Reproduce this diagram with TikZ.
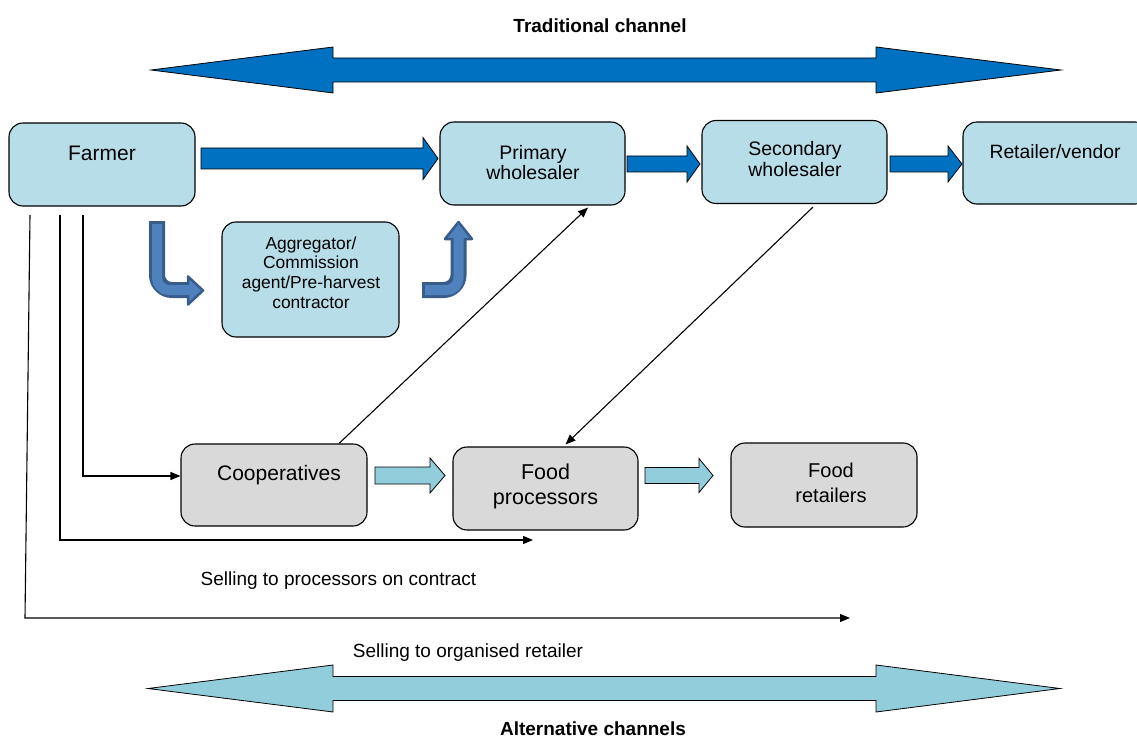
\documentclass[tikz,border=0pt]{standalone}
\usepackage{fontspec}
\setmainfont{Liberation Sans}
\usetikzlibrary{arrows.meta}

\definecolor{boxblue}{HTML}{B7DEE8}
\definecolor{boxgrey}{HTML}{D9D9D9}
\definecolor{arrowdark}{HTML}{0070C0}
\definecolor{arrowlight}{HTML}{92CDDC}
\definecolor{turnfill}{HTML}{4F81BD}
\definecolor{turnedge}{HTML}{385D8A}

% block arrow: style, x start, x head, x tip, y centre, shaft half, head half
\newcommand{\blockarrow}[7]{%
  \draw[#1] (#2,#5-#6) -- (#3,#5-#6) -- (#3,#5-#7) -- (#4,#5)
    -- (#3,#5+#7) -- (#3,#5+#6) -- (#2,#5+#6) -- cycle;}
% double block arrow: style, x left tip, x left head, x right head, x right tip, y centre, shaft half, head half
\newcommand{\twinarrow}[8]{%
  \draw[#1] (#2,#6) -- (#3,#6-#8) -- (#3,#6-#7) -- (#4,#6-#7) -- (#4,#6-#8)
    -- (#5,#6) -- (#4,#6+#8) -- (#4,#6+#7) -- (#3,#6+#7) -- (#3,#6+#8) -- cycle;}

\begin{document}
\begin{tikzpicture}[
  x=1pt, y=-1pt,
  box/.style={draw, rounded corners=14pt, line width=1.1pt, inner sep=0pt},
  bluebox/.style={box, fill=boxblue},
  greybox/.style={box, fill=boxgrey},
  boxtext/.style={align=center, inner sep=0pt},
  label text/.style={inner sep=0pt, font=\fontsize{19}{22}\selectfont},
  title text/.style={inner sep=0pt, font=\fontsize{19}{22}\selectfont\bfseries},
  link/.style={line width=1.1pt, -{Triangle[length=10pt,width=8pt]}},
  fatdark/.style={draw=black, line width=0.8pt, fill=arrowdark},
  fatlight/.style={draw=black, line width=0.8pt, fill=arrowlight},
  turnouter/.style={draw=turnedge, line width=16pt, rounded corners=15pt},
  turninner/.style={draw=turnfill, line width=10pt, rounded corners=12pt},
  turnhead/.style={draw=turnedge, line width=2.5pt, fill=turnfill, line join=round}
]
\useasboundingbox (0,0) rectangle (1137,738);
\clip (0,0) rectangle (1137,738);

% channel arrows
\twinarrow{fatdark}{151}{333}{876}{1061}{70}{12}{23}
\twinarrow{fatlight}{148}{333}{876}{1060}{688.5}{12}{23.5}
\node[title text] (traditional) at (600,26) {Traditional channel};
\node[title text] (alternative) at (593,729) {Alternative channels};

% boxes
\node[bluebox, minimum width=186pt, minimum height=83pt] (farmer) at (102,164.5) {};
\node[bluebox, minimum width=185pt, minimum height=83pt] (primary) at (532.5,163.5) {};
\node[bluebox, minimum width=185pt, minimum height=83pt] (secondary) at (794.5,162) {};
\node[bluebox, minimum width=186pt, minimum height=82pt] (retailer) at (1056,163) {};
\node[bluebox, minimum width=177pt, minimum height=115pt] (aggregator) at (310.5,279.5) {};
\node[greybox, minimum width=186pt, minimum height=82pt] (coop) at (274,485) {};
\node[greybox, minimum width=185pt, minimum height=83pt] (foodproc) at (545.5,488.5) {};
\node[greybox, minimum width=186pt, minimum height=84pt] (foodret) at (824,485) {};

\node[boxtext, font=\fontsize{21}{25}\selectfont] (farmertext) at (102,153) {Farmer};
\node[boxtext, font=\fontsize{19.5}{20}\selectfont] (primarytext) at (533,163) {Primary\\wholesaler};
\node[boxtext, font=\fontsize{19.5}{21}\selectfont] (secondarytext) at (795,159.5) {Secondary\\wholesaler};
\node[boxtext, font=\fontsize{19.3}{22}\selectfont] (retailertext) at (1055,152) {Retailer/vendor};
\node[boxtext, font=\fontsize{17.4}{19.7}\selectfont] (aggregatortext) at (311,272.5)
  {Aggregator/\\Commission\\agent/Pre-harvest\\contractor};
\node[boxtext, font=\fontsize{21}{25}\selectfont] (cooptext) at (279,475) {Cooperatives};
\node[boxtext, font=\fontsize{21.5}{25}\selectfont] (foodproctext) at (545.5,486) {Food\\processors};
\node[boxtext, font=\fontsize{20}{25}\selectfont] (foodrettext) at (831,482.5) {Food\\retailers};

% traditional flow
\blockarrow{fatdark}{201}{423}{438}{158.5}{10.5}{21}
\blockarrow{fatdark}{627}{687}{700}{164}{8}{18}
\blockarrow{fatdark}{890}{948}{962}{164}{8}{18}

% alternative flow
\blockarrow{fatlight}{375}{430}{445}{475.5}{8.5}{17.5}
\blockarrow{fatlight}{645}{699}{713}{475.5}{8}{17}

% turns through the aggregator
\draw[turnouter] (157,221) |- (190,290);
\draw[turnhead] (188,276.5) -- (203,290.5) -- (188,304.5) -- cycle;
\draw[turninner] (157,224) |- (191,290);
\draw[turnouter] (422,290) -| (458.5,238);
\draw[turnhead] (445,239) -- (458.5,222) -- (472,239) -- cycle;
\draw[turninner] (425,290) -| (458.5,237);

% thin links
\coordinate (f1) at (83,215);
\coordinate (f2) at (60,215);
\coordinate (f3) at (30,215);
\coordinate (f3low) at (25,618);
\coordinate (procend) at (533,540);
\coordinate (retend) at (850,618);
\draw[link] (f1) |- ([yshift=9pt]coop.west);
\draw[link] (f2) |- (procend);
\draw[link] (f3) -- (f3low) -- (retend);
\draw[link] ([xshift=65pt]coop.north) -- ([xshift=55.5pt,yshift=-2pt]primary.south);
\draw[link] ([xshift=18.5pt,yshift=-3pt]secondary.south) -- ([xshift=20pt,yshift=2pt]foodproc.north);

\node[label text] (contractlabel) at (338.5,581) {Selling to processors on contract};
\node[label text] (retaillabel) at (468,652.5) {Selling to organised retailer};
\end{tikzpicture}
\end{document}
